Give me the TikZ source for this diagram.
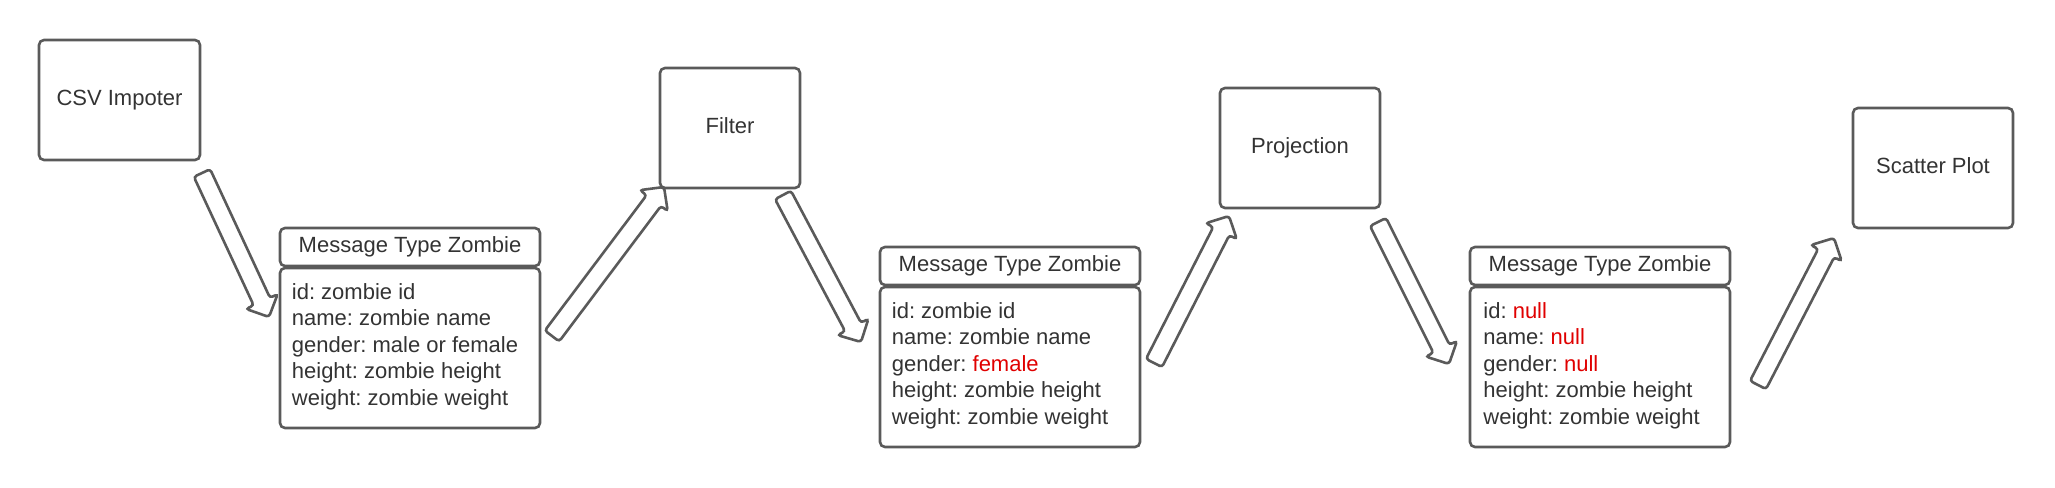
\documentclass[tikz,border=0pt]{standalone}
\usepackage{fontspec}
\setmainfont{Liberation Sans}
\usetikzlibrary{calc}
\definecolor{lc}{HTML}{5A5A5A}
\definecolor{tc}{HTML}{333333}
\definecolor{rc}{HTML}{E00000}
\newcommand{\blockarr}[2]{%
  \coordinate (hh) at ($(#2)!8.5pt!(#1)$);
  \draw[barrow] ($(#1)!4.5pt!90:(#2)$) -- ($(hh)!4.5pt!90:(#2)$) -- ($(hh)!8.7pt!90:(#2)$)
    -- (#2)
    -- ($(hh)!8.7pt!-90:(#2)$) -- ($(hh)!4.5pt!-90:(#2)$) -- ($(#1)!4.5pt!-90:(#2)$) -- cycle;}
\begin{document}
\frenchspacing
\begin{tikzpicture}[x=0.5pt,y=-0.5pt,
  txt/.style={text=tc, font=\fontsize{11}{13.25}\selectfont},
  box/.style={draw=lc, line width=1.3pt, rounded corners=2.5pt, inner sep=0pt, txt, text height=8pt, text depth=2.3pt},
  proc/.style={box, minimum height=60pt},
  head/.style={box, minimum width=130pt, minimum height=19pt},
  body/.style={draw=lc, line width=1.3pt, rounded corners=2.5pt, minimum width=130pt, minimum height=80pt},
  line/.style={txt, anchor=base west, inner sep=0pt},
  barrow/.style={draw=lc, line width=1.3pt, rounded corners=1.5pt, fill=white}]
\useasboundingbox (0,0) rectangle (2055,487);
% process boxes
\node[proc, minimum width=80.5pt] (csv) at (119.5,100) {CSV Impoter};
\node[proc, minimum width=70pt] (filter) at (730,128) {Filter};
\node[proc, minimum width=80pt] (proj) at (1300,148) {Projection};
\node[proc, minimum width=80pt] (scatter) at (1933,168) {Scatter Plot};
% message 1
\node[head] (h1) at (410,247) {Message Type Zombie};
\node[body] (m1) at (410,348) {};
\node[line] (m1a) at (291.5,299) {id: zombie id};
\node[line] (m1b) at (291.5,325.6) {name: zombie name};
\node[line] (m1c) at (291.5,352.2) {gender: male or female};
\node[line] (m1d) at (291.5,378.8) {height: zombie height};
\node[line] (m1e) at (291.5,405.4) {weight: zombie weight};
% message 2
\node[head] (h2) at (1010,266) {Message Type Zombie};
\node[body] (m2) at (1010,367) {};
\node[line] (m2a) at (891.5,318) {id: zombie id};
\node[line] (m2b) at (891.5,344.6) {name: zombie name};
\node[line] (m2c) at (891.5,371.2) {gender: \textcolor{rc}{female}};
\node[line] (m2d) at (891.5,397.8) {height: zombie height};
\node[line] (m2e) at (891.5,424.4) {weight: zombie weight};
% message 3
\node[head] (h3) at (1600,266) {Message Type Zombie};
\node[body] (m3) at (1600,367) {};
\node[line] (m3a) at (1483,318) {id: \textcolor{rc}{null}};
\node[line] (m3b) at (1483,344.6) {name: \textcolor{rc}{null}};
\node[line] (m3c) at (1483,371.2) {gender: \textcolor{rc}{null}};
\node[line] (m3d) at (1483,397.8) {height: zombie height};
\node[line] (m3e) at (1483,424.4) {weight: zombie weight};
% arrows
\coordinate (a1s) at (202,173); \coordinate (a1e) at (269,317);
\coordinate (a2s) at (552,336); \coordinate (a2e) at (664,187);
\coordinate (a3s) at (783,195); \coordinate (a3e) at (861,342);
\coordinate (a4s) at (1154,363); \coordinate (a4e) at (1229,216);
\coordinate (a5s) at (1378,222); \coordinate (a5e) at (1449,364);
\coordinate (a6s) at (1758,385); \coordinate (a6e) at (1834,238);
\blockarr{a1s}{a1e}
\blockarr{a2s}{a2e}
\blockarr{a3s}{a3e}
\blockarr{a4s}{a4e}
\blockarr{a5s}{a5e}
\blockarr{a6s}{a6e}
\end{tikzpicture}
\end{document}
